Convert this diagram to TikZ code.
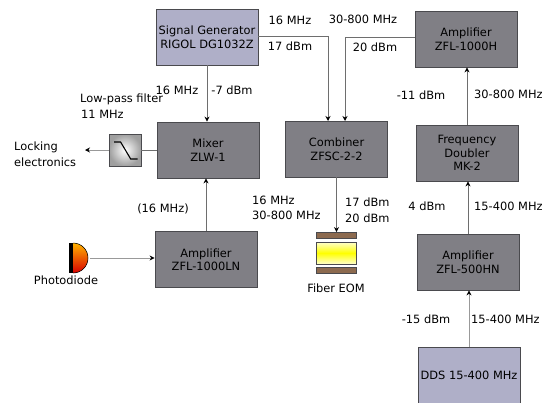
\documentclass[tikz,border=0pt]{standalone}
\usepackage{fontspec}
\setmainfont{DejaVu Sans}
\usepackage{xcolor}
\usetikzlibrary{arrows.meta}
\definecolor{srcblue}{HTML}{AFAFC8}
\definecolor{ampgrey}{HTML}{807F85}
\definecolor{edgegrey}{HTML}{4A4A4E}
\definecolor{wiregrey}{HTML}{6E6E6E}
\definecolor{brownplate}{HTML}{8C6A4F}
\definecolor{crystalmid}{RGB}{255,255,0}
\definecolor{crystalpale}{RGB}{255,255,205}

\begin{document}
\begin{tikzpicture}[x=1pt,y=-1pt,font=\fontsize{11.4pt}{13.5pt}\selectfont,
  block/.style={draw=edgegrey,line width=.8pt,fill=#1,minimum width=102pt,minimum height=56pt,align=center,inner sep=0pt},
  lbl/.style={inner sep=0pt,align=left},
  wire/.style={draw=wiregrey,line width=.9pt,-{Stealth[length=5pt,width=5pt,color=black]}},
  plate/.style={draw=edgegrey,line width=.8pt,fill=brownplate,minimum width=40pt,minimum height=6pt,inner sep=0pt}]
\useasboundingbox (0,0) rectangle (545,402);
\node[block=srcblue] (siggen) at (207,37) {Signal Generator\\RIGOL DG1032Z};
\node[block=ampgrey] (mixer) at (208,150) {Mixer\\ZLW-1};
\node[block=ampgrey] (combiner) at (336.5,149) {Combiner\\ZFSC-2-2};
\node[block=ampgrey] (amphigh) at (466,39) {Amplifier\\ZFL-1000H};
\node[block=ampgrey] (doubler) at (467,153) {Frequency\\Doubler\\MK-2};
\node[block=ampgrey] (ampmid) at (468,262) {Amplifier\\ZFL-500HN};
\node[block=srcblue] (dds) at (469,375) {DDS 15-400 MHz};
\node[block=ampgrey] (amplow) at (206,259.5) {Amplifier\\ZFL-1000LN};
% filter
\node[draw=edgegrey,line width=.8pt,inner color=white,outer color=gray!75,minimum size=32pt,inner sep=0pt] (filter) at (125,150) {};
\draw[line width=1.1pt] (114,142) -- (120.6,142) -- (130.7,159) -- (137.7,159);
% photodiode
\fill[top color=orange!60!yellow,bottom color=red!85!black] (73,243) arc (-90:90:15) -- cycle;
\draw[line width=.5pt] (73,243) arc (-90:90:15);
\node[fill=black,minimum width=4.5pt,minimum height=30pt,inner sep=0pt] (pdbar) at (71,258) {};
\coordinate (pdout) at (90,258);
% fiber eom
\node[plate] (platetop) at (336.5,235.5) {};
\node[draw=edgegrey,line width=.8pt,minimum width=40pt,minimum height=22pt,inner sep=0pt,top color=crystalpale,bottom color=crystalpale,middle color=crystalmid] (crystal) at (336.5,253) {};
\node[plate] (platebot) at (336.5,270) {};
% free ends
\coordinate (lockend) at (85,150);
\coordinate (combinA) at (328,121);
\coordinate (combinB) at (345,121);
\draw[wire] (siggen.south) -- (siggen.south |- mixer.north);
\draw[wire] ([yshift=1pt]siggen.east) -| (combinA);
\draw[wire] ([yshift=2pt]amphigh.west) -| (combinB);
\draw[wire] (combiner.south) -- (platetop.north);
\draw[draw=wiregrey,line width=.9pt] (mixer.west) -- (filter.east);
\draw[wire,draw=gray!80] (filter.west) -- (lockend);
\draw[wire] (amplow.north) -- (amplow.north |- mixer.south);
\draw[wire,draw=gray!80] (pdout) -- (pdout -| amplow.west);
\draw[wire,draw=gray!80] (dds.north) -- (dds.north |- ampmid.south);
\draw[wire] (ampmid.north) -- (ampmid.north |- doubler.south);
\draw[wire] (doubler.north) -- (doubler.north |- amphigh.south);
% labels
\node[lbl] (lbla) at (290,20) {16 MHz};
\node[lbl] (lblb) at (290,46) {17 dBm};
\node[lbl] (lblc) at (363,19.5) {30-800 MHz};
\node[lbl] (lbld) at (375,47) {20 dBm};
\node[lbl] (lble) at (177,90) {16 MHz};
\node[lbl] (lblf) at (232,90) {-7 dBm};
\node[lbl,anchor=west] (lblg) at (80,99) {Low-pass filter};
\node[lbl,anchor=west] (lblh) at (81,114) {11 MHz};
\node[lbl,anchor=west] (lbli) at (14,147.5) {Locking};
\node[lbl,anchor=west] (lblj) at (14,162) {electronics};
\node[lbl] (lblk) at (163,209) {(16 MHz)};
\node[lbl] (lbll) at (66,280) {Photodiode};
\node[lbl,anchor=west] (lblm) at (252,200) {16 MHz};
\node[lbl,anchor=west] (lbln) at (252,215) {30-800 MHz};
\node[lbl,anchor=west] (lblo) at (345,202) {17 dBm};
\node[lbl,anchor=west] (lblp) at (345,218) {20 dBm};
\node[lbl] (lblq) at (336,288) {Fiber EOM};
\node[lbl] (lblr) at (421,95) {-11 dBm};
\node[lbl,anchor=west] (lbls) at (474,94) {30-800 MHz};
\node[lbl] (lblt) at (427,206) {4 dBm};
\node[lbl,anchor=west] (lblu) at (474,206) {15-400 MHz};
\node[lbl] (lblv) at (426,319) {-15 dBm};
\node[lbl,anchor=west] (lblw) at (471,319) {15-400 MHz};
\end{tikzpicture}
\end{document}
